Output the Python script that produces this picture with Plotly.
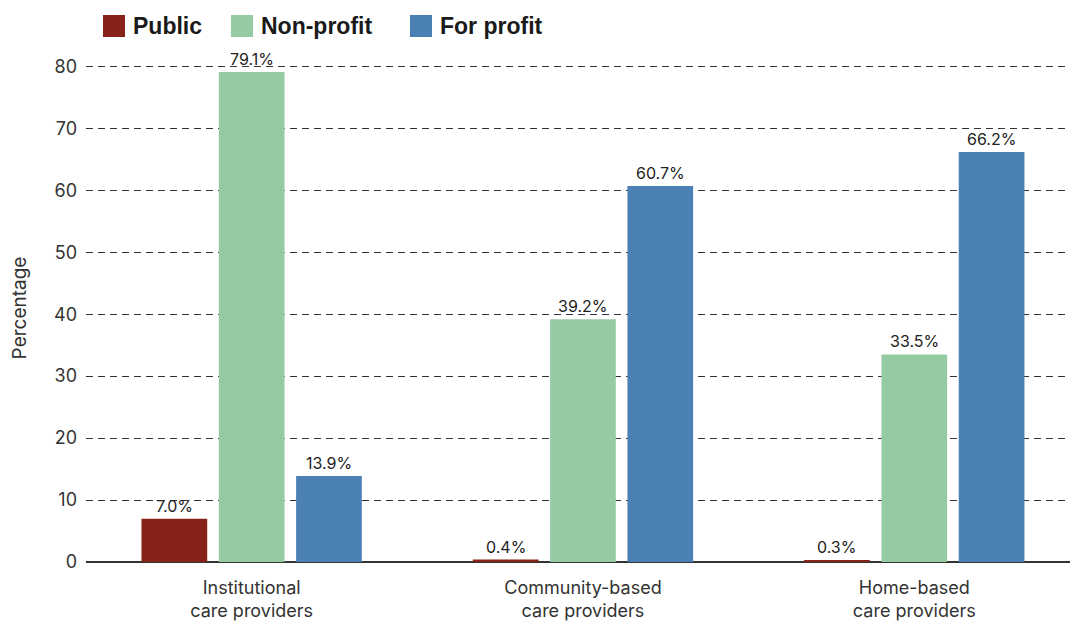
import plotly.graph_objects as go

categories = ["Institutional<br>care providers", "Community-based<br>care providers", "Home-based<br>care providers"]
series_names = ["Public", "Non-profit", "For profit"]
public = [7.0, 0.4, 0.3]
non_profit = [79.1, 39.2, 33.5]
for_profit = [13.9, 60.7, 66.2]
y_ticks = [0, 10, 20, 30, 40, 50, 60, 70, 80]

colors = ["#872219", "#94CBA3", "#4A80B3"]
values = [public, non_profit, for_profit]

base_font = "Inter, Roboto, Liberation Sans, sans-serif"
bargap = 0.3
slot = (1 - bargap) / len(series_names)

fig = go.Figure()
for k, (name, vals, col) in enumerate(zip(series_names, values, colors)):
    fig.add_trace(go.Bar(
        name=name,
        x=categories,
        y=vals,
        marker=dict(color=col, line=dict(width=0)),
        showlegend=False,
    ))
    # value labels above each bar
    shift = (k - (len(series_names) - 1) / 2) * slot
    for i, v in enumerate(vals):
        fig.add_annotation(
            x=i + shift, y=v, xref="x", yref="y",
            text=f"{v:.1f}%", showarrow=False,
            xanchor="center", yanchor="bottom", yshift=1,
            font=dict(size=16, color="#222222", family=base_font),
        )

# Custom legend row across the top
legend_x = [103, 231, 410]
for name, col, x0 in zip(series_names, colors, legend_x):
    fig.add_shape(type="rect", xref="paper", yref="paper",
                  x0=(x0 - 86) / 984, x1=(x0 + 22 - 86) / 984,
                  y0=(621 - 59 - 37) / 508, y1=(621 - 59 - 15) / 508,
                  fillcolor=col, line=dict(width=0), layer="above")
    fig.add_annotation(xref="paper", yref="paper",
                       x=(x0 + 28 - 86) / 984, y=(621 - 59 - 26) / 508,
                       xanchor="left", yanchor="middle", showarrow=False,
                       text=f"<b>{name}</b>",
                       font=dict(size=23, color="#1a1a1a", family="Liberation Sans, Arial, sans-serif"))

fig.update_layout(
    width=1070, height=621,
    margin=dict(l=86, r=0, t=54, b=59),
    paper_bgcolor="white", plot_bgcolor="white",
    barmode="group", bargap=bargap, bargroupgap=0.15,
    font=dict(family=base_font, color="#333333"),
    xaxis=dict(
        range=[-0.5, 2.47],
        automargin=False,
        showgrid=False, showline=False, zeroline=False,
        ticks="", tickfont=dict(size=18, color="#333333"),
        ticklabelstandoff=13,
    ),
    yaxis=dict(
        range=[0, 82],
        automargin=False,
        tickvals=y_ticks,
        showgrid=True, gridcolor="#333333", griddash="7px,5px", gridwidth=1,
        zeroline=True, zerolinecolor="#333333", zerolinewidth=1.5,
        showline=False, ticks="",
        tickfont=dict(size=18, color="#333333"),
        ticklabelstandoff=8,
        title=dict(text="Percentage", font=dict(size=19, color="#333333"), standoff=22),
    ),
)

fig.write_html("out.html")
